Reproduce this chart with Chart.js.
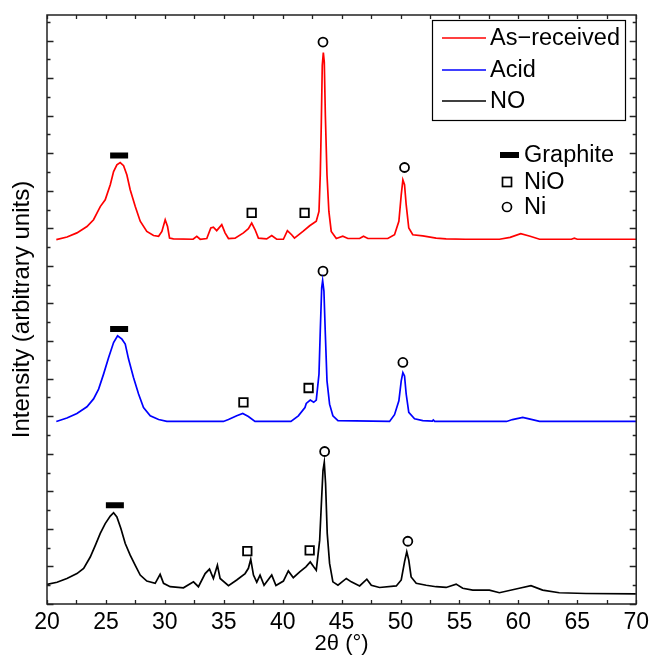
<!DOCTYPE html>
<html lang="en">
<head>
  <meta charset="UTF-8">
  <title>XRD patterns</title>
  <script src="https://cdn.jsdelivr.net/npm/chart.js"></script>
  <style>
    * {
      margin: 0;
      padding: 0;
      box-sizing: border-box;
    }
    body {
      background: #fff;
      width: 654px;
      height: 658px;
      overflow: hidden;
    }
  </style>
</head>
<body>
  <canvas id="xrdChart" width="654" height="658"></canvas>

  <script>
    // 2-theta positions and stacked intensities (arbitrary units, offsets included)
    const thetaAsReceived = [20.79, 21.7, 22.54, 23.39, 23.95, 24.52, 24.94, 25.37, 25.65, 25.93, 26.21, 26.5, 26.78, 27.06, 27.49, 27.91, 28.47, 29.04, 29.47, 29.75, 30.03, 30.23, 30.4, 30.73, 32.4, 32.71, 33.0, 33.56, 33.9, 34.12, 34.4, 34.83, 35.11, 35.4, 35.96, 36.67, 37.09, 37.37, 37.65, 37.94, 38.64, 39.07, 39.49, 40.06, 40.4, 40.76, 41.0, 41.72, 42.29, 42.85, 43.08, 43.19, 43.28, 43.36, 43.45, 43.53, 43.62, 43.76, 43.92, 44.12, 44.55, 45.1, 45.53, 46.53, 46.86, 47.23, 48.92, 49.49, 49.86, 50.06, 50.2, 50.34, 50.48, 50.7, 51.04, 51.89, 53.02, 53.87, 55.5, 58.4, 59.3, 60.2, 61.0, 61.8, 64.5, 64.75, 65.0, 70.0];
    const asReceived = [9.70, 9.77, 9.88, 10.05, 10.23, 10.58, 10.76, 11.16, 11.51, 11.69, 11.75, 11.67, 11.42, 11.03, 10.58, 10.19, 9.92, 9.81, 9.79, 9.92, 10.23, 10.05, 9.74, 9.72, 9.71, 9.79, 9.71, 9.73, 10.01, 10.03, 9.94, 10.10, 9.88, 9.73, 9.74, 9.88, 9.99, 10.14, 9.97, 9.74, 9.72, 9.81, 9.71, 9.71, 9.94, 9.83, 9.74, 9.92, 10.07, 10.19, 10.45, 11.42, 12.84, 14.34, 14.68, 14.43, 13.02, 11.42, 10.45, 9.92, 9.73, 9.79, 9.73, 9.73, 9.79, 9.73, 9.73, 9.83, 10.19, 10.89, 11.29, 11.16, 10.63, 10.01, 9.83, 9.80, 9.74, 9.72, 9.71, 9.71, 9.76, 9.86, 9.79, 9.71, 9.71, 9.74, 9.71, 9.71];

    const thetaAcid = [20.79, 21.69, 22.54, 23.39, 23.95, 24.38, 24.8, 25.23, 25.65, 25.99, 26.36, 26.64, 26.92, 27.34, 27.77, 28.19, 28.76, 29.47, 30.17, 34.97, 35.4, 36.1, 36.61, 37.09, 37.65, 40.7, 41.33, 41.89, 42.0, 42.34, 42.63, 42.85, 43.08, 43.19, 43.31, 43.39, 43.5, 43.62, 43.76, 43.98, 44.26, 44.69, 49.07, 49.49, 49.86, 50.06, 50.2, 50.34, 50.48, 50.7, 51.19, 51.89, 52.7, 52.78, 52.9, 59.0, 59.5, 60.37, 61.0, 61.8, 70.0];
    const acid = [4.86, 4.95, 5.07, 5.25, 5.46, 5.72, 6.12, 6.56, 6.96, 7.14, 7.05, 6.92, 6.52, 6.03, 5.59, 5.23, 5.01, 4.91, 4.86, 4.86, 4.91, 5.01, 5.07, 4.99, 4.86, 4.86, 5.01, 5.23, 5.34, 5.43, 5.37, 5.43, 6.12, 7.27, 8.42, 8.61, 8.33, 7.18, 5.94, 5.32, 5.01, 4.88, 4.86, 5.04, 5.41, 5.94, 6.16, 6.07, 5.59, 5.10, 4.93, 4.88, 4.87, 4.90, 4.86, 4.86, 4.91, 4.97, 4.92, 4.86, 4.86];

    const thetaNO = [20.0, 20.85, 21.69, 22.54, 23.11, 23.67, 24.1, 24.52, 24.94, 25.37, 25.65, 25.93, 26.27, 26.64, 27.06, 27.49, 27.91, 28.47, 29.18, 29.6, 29.89, 30.45, 31.58, 32.43, 32.85, 33.42, 33.79, 34.12, 34.46, 34.69, 35.4, 36.1, 36.81, 37.09, 37.29, 37.52, 37.8, 38.08, 38.42, 39.07, 39.43, 40.06, 40.48, 40.9, 41.47, 41.97, 42.34, 42.63, 42.85, 43.14, 43.31, 43.42, 43.53, 43.64, 43.78, 43.98, 44.26, 44.69, 45.4, 45.82, 46.53, 47.14, 47.52, 48.22, 49.64, 50.06, 50.34, 50.53, 50.7, 50.9, 51.33, 52.18, 53.02, 53.87, 54.72, 55.28, 56.13, 57.54, 58.39, 60.08, 61.07, 62.06, 63.47, 65.74, 69.97];
    const nitricOx = [0.52, 0.58, 0.68, 0.81, 0.95, 1.25, 1.56, 1.88, 2.14, 2.34, 2.43, 2.32, 2.01, 1.61, 1.30, 1.03, 0.77, 0.61, 0.55, 0.79, 0.55, 0.46, 0.43, 0.59, 0.46, 0.81, 0.93, 0.68, 1.03, 0.68, 0.49, 0.64, 0.81, 0.95, 1.19, 0.77, 0.58, 0.77, 0.50, 0.77, 0.49, 0.61, 0.88, 0.70, 0.86, 0.99, 1.12, 0.99, 0.90, 1.70, 2.85, 3.55, 3.77, 3.20, 1.88, 1.08, 0.59, 0.50, 0.68, 0.59, 0.48, 0.66, 0.50, 0.44, 0.48, 0.64, 1.12, 1.39, 1.17, 0.72, 0.55, 0.50, 0.46, 0.44, 0.53, 0.42, 0.37, 0.37, 0.30, 0.42, 0.49, 0.37, 0.30, 0.28, 0.27];

    // phase markers above the reflections
    const graphiteX = [26.12, 26.12, 25.76];
    const graphiteY = [11.94, 7.32, 2.63];
    const nioX = [37.37, 41.86, 36.67, 42.2, 37.0, 42.29];
    const nioY = [10.41, 10.41, 5.37, 5.75, 1.41, 1.43];
    const niX = [43.42, 50.34, 43.42, 50.2, 43.56, 50.62];
    const niY = [14.96, 11.62, 8.86, 6.43, 4.06, 1.67];

    const seriesNames = ['As\u2212received', 'Acid', 'NO'];
    const seriesColors = ['#ff0000', '#0000ff', '#000000'];
    const phaseNames = ['Graphite', 'NiO', 'Ni'];

    const xMin = 20, xMax = 70, yMax = 15.68;
    const FONT = "'Liberation Sans', Arial, Helvetica, sans-serif";

    const pts = (xs, ys) => xs.map((x, i) => ({ x: x, y: ys[i] }));

    // frame with inward ticks on all four sides
    const frameTicks = {
      id: 'frameTicks',
      afterDraw(chart) {
        const { ctx, chartArea: a, scales } = chart;
        ctx.save();
        ctx.strokeStyle = '#222';
        ctx.lineWidth = 1.3;
        ctx.beginPath();
        for (let v = xMin; v <= xMax + 1e-6; v += 2.5) {
          const px = Math.round(scales.x.getPixelForValue(v)) + 0.5;
          ctx.moveTo(px, a.bottom); ctx.lineTo(px, a.bottom - 4);
          ctx.moveTo(px, a.top); ctx.lineTo(px, a.top + 4);
        }
        for (let v = 0; v <= yMax; v += 0.5) {
          const py = Math.round(scales.y.getPixelForValue(v)) + 0.5;
          const len = (Math.abs(v - Math.round(v)) < 1e-6) ? 6.5 : 3.5;
          ctx.moveTo(a.left, py); ctx.lineTo(a.left + len, py);
          ctx.moveTo(a.right, py); ctx.lineTo(a.right - len, py);
        }
        ctx.stroke();
        ctx.lineWidth = 1.5;
        ctx.strokeRect(a.left, a.top, a.right - a.left, a.bottom - a.top);
        ctx.restore();
      }
    };

    // series legend in a box, phase key below it
    const keyPlugin = {
      id: 'keyPlugin',
      afterDraw(chart) {
        const { ctx } = chart;
        ctx.save();
        ctx.strokeStyle = '#000';
        ctx.lineWidth = 1.2;
        ctx.strokeRect(432.5, 20.5, 193, 100);
        ctx.font = '23.5px ' + FONT;
        ctx.textBaseline = 'middle';
        ctx.fillStyle = '#000';
        const rows = [38, 70, 101];
        seriesNames.forEach((name, i) => {
          ctx.strokeStyle = seriesColors[i];
          ctx.lineWidth = 1.5;
          ctx.beginPath();
          ctx.moveTo(442, rows[i]); ctx.lineTo(486, rows[i]);
          ctx.stroke();
          ctx.fillText(name, 490, rows[i] + 1);
        });

        const keyRows = [155, 182, 207];
        ctx.strokeStyle = '#000';
        ctx.lineWidth = 6;
        ctx.beginPath();
        ctx.moveTo(500, keyRows[0]); ctx.lineTo(519, keyRows[0]);
        ctx.stroke();
        ctx.lineWidth = 1.7;
        ctx.strokeRect(502.5, keyRows[1] - 4.5, 9, 9);
        ctx.beginPath();
        ctx.arc(507, keyRows[2], 4.5, 0, Math.PI * 2);
        ctx.stroke();
        phaseNames.forEach((name, i) => ctx.fillText(name, 524, keyRows[i] + 1));
        ctx.restore();
      }
    };

    const markerBase = {
      showLine: false,
      borderColor: '#000',
      backgroundColor: 'rgba(0,0,0,0)'
    };

    new Chart(document.getElementById('xrdChart'), {
      type: 'line',
      data: {
        datasets: [
          { label: seriesNames[0], data: pts(thetaAsReceived, asReceived), borderColor: seriesColors[0] },
          { label: seriesNames[1], data: pts(thetaAcid, acid), borderColor: seriesColors[1] },
          { label: seriesNames[2], data: pts(thetaNO, nitricOx), borderColor: seriesColors[2] },
          Object.assign({ label: phaseNames[0], data: pts(graphiteX, graphiteY), pointStyle: 'line', pointRadius: 9, borderWidth: 6 }, markerBase),
          Object.assign({ label: phaseNames[1], data: pts(nioX, nioY), pointStyle: 'rect', pointRadius: 6, borderWidth: 1.8 }, markerBase),
          Object.assign({ label: phaseNames[2], data: pts(niX, niY), pointStyle: 'circle', pointRadius: 4.5, borderWidth: 1.8 }, markerBase)
        ]
      },
      options: {
        responsive: false,
        animation: false,
        layout: { padding: { top: 13, right: 17, left: 0, bottom: 0 } },
        elements: {
          line: { borderWidth: 1.7, tension: 0, fill: false },
          point: { radius: 0, hoverRadius: 0 }
        },
        plugins: {
          legend: { display: false },
          tooltip: { enabled: false }
        },
        scales: {
          x: {
            type: 'linear',
            min: xMin,
            max: xMax,
            grid: { display: false, drawTicks: false },
            border: { display: false },
            ticks: {
              stepSize: 5,
              autoSkip: false,
              maxRotation: 0,
              padding: 5,
              color: '#000',
              font: { family: FONT, size: 23 }
            },
            title: {
              display: true,
              text: '2\u03b8 (\u00b0)',
              color: '#000',
              font: { family: FONT, size: 22 },
              padding: { top: 0, bottom: 1 }
            },
            afterFit(scale) { scale.height = 54; }
          },
          y: {
            min: 0,
            max: yMax,
            grid: { display: false, drawTicks: false },
            border: { display: false },
            ticks: { display: false },
            title: {
              display: true,
              text: 'Intensity (arbitrary units)',
              color: '#000',
              font: { family: FONT, size: 24 },
              padding: { top: 8, bottom: 0 }
            },
            afterFit(scale) { scale.width = 47; }
          }
        }
      },
      plugins: [frameTicks, keyPlugin]
    });
  </script>
</body>
</html>
